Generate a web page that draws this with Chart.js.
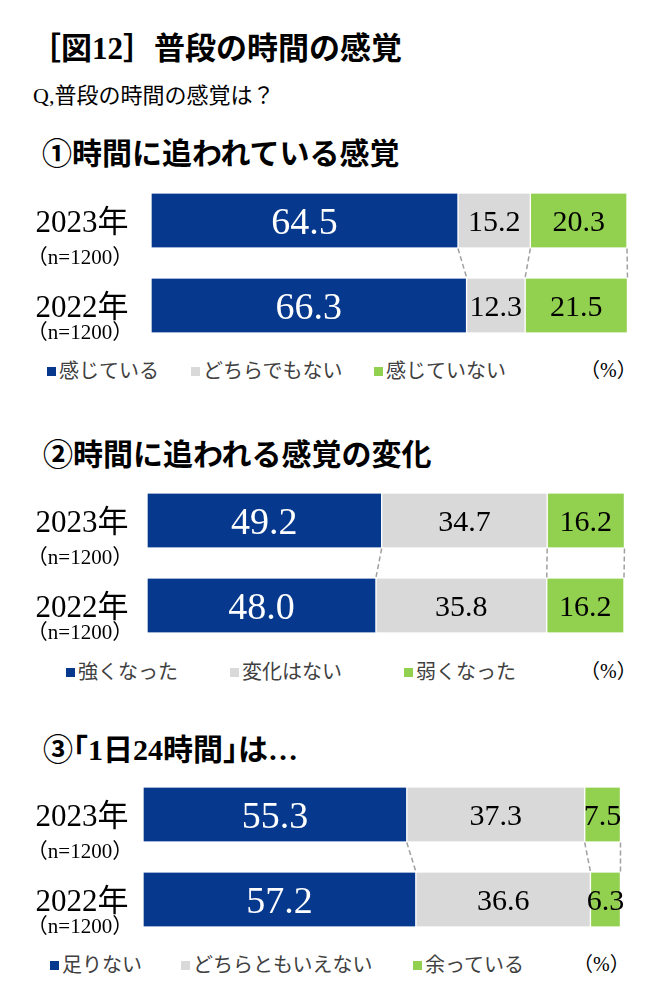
<!DOCTYPE html>
<html>
<head>
<meta charset="utf-8">
<script src="https://cdn.jsdelivr.net/npm/chart.js@4.4.0/dist/chart.umd.min.js"></script>
<style>
body { margin: 0; background: #fff; }
#page { position: relative; width: 670px; height: 1000px; overflow: hidden; background: #fff;
        font-family: "Liberation Serif", "Noto Sans CJK JP", serif; color: #000; }
.t { position: absolute; white-space: nowrap; line-height: 1; }
.halt { font-feature-settings: "halt" 1; }
canvas { position: absolute; left: 0; }
.legend { position: absolute; left: 0; width: 670px; height: 24px;
          font-family: "Noto Sans CJK JP", sans-serif; font-size: 20px; color: #404040; }
.legend .item { position: absolute; top: 0; white-space: nowrap; line-height: 24px; }
.legend i { display: inline-block; width: 9px; height: 9px; margin-right: 3px; vertical-align: middle; position: relative; top: -1px; }
</style>
</head>
<body>
<div id="page">
  <div class="t" style="left:30px;top:33px;font-size:31px;font-weight:700;">［図12］普段の時間の感覚</div>
  <div class="t" style="left:33px;top:85px;font-size:22px;">Q,普段の時間の感覚は？</div>

  <div class="t" style="left:42px;top:139px;font-size:30px;font-weight:700;">①時間に追われている感覚</div>
  <canvas id="chart1" width="670" height="170" style="top:178px"></canvas>
  <div class="legend" id="legend1" style="top:358px"></div>

  <div class="t" style="left:43px;top:440px;font-size:30px;font-weight:700;">②時間に追われる感覚の変化</div>
  <canvas id="chart2" width="670" height="170" style="top:478px"></canvas>
  <div class="legend" id="legend2" style="top:659px"></div>

  <div class="t halt" style="left:43px;top:735px;font-size:30px;font-weight:700;">③「1日24時間」は…</div>
  <canvas id="chart3" width="670" height="170" style="top:772px"></canvas>
  <div class="legend" id="legend3" style="top:952px"></div>
</div>

<script>
// 年 (2023, 2022 の順)
var years = ['2023年', '2022年'];
var sampleLabel = '（n=1200）';
var unitLabel = '（%）';

// ①時間に追われている感覚
var s1Names = ['感じている', 'どちらでもない', '感じていない'];
var s1Feel = [64.5, 66.3];
var s1Neutral = [15.2, 12.3];
var s1NotFeel = [20.3, 21.5];

// ②時間に追われる感覚の変化
var s2Names = ['強くなった', '変化はない', '弱くなった'];
var s2Stronger = [49.2, 48.0];
var s2NoChange = [34.7, 35.8];
var s2Weaker = [16.2, 16.2];

// ③「1日24時間」は…
var s3Names = ['足りない', 'どちらともいえない', '余っている'];
var s3Short = [55.3, 57.2];
var s3Neither = [37.3, 36.6];
var s3Spare = [7.5, 6.3];

var colors = ['#06398d', '#d9d9d9', '#92d050'];
var textColors = ['#ffffff', '#000000', '#000000'];

// 年ラベル (2023年 / (n=1200))
var yearLabels = {
    id: 'yearLabels',
    afterDraw: function (chart) {
        var ctx = chart.ctx, yScale = chart.scales.y;
        ctx.save();
        ctx.fillStyle = '#000';
        ctx.textAlign = 'center';
        ctx.textBaseline = 'middle';
        years.forEach(function (yr, i) {
            var y = yScale.getPixelForValue(i);
            ctx.font = '31px "Liberation Serif", "Noto Sans CJK JP"';
            ctx.fillText(yr, 82, y + 3);
            ctx.font = '21px "Liberation Serif", "Noto Sans CJK JP"';
            ctx.fillText(sampleLabel, 80, y + (i === 0 ? 38 : 28));
        });
        ctx.restore();
    }
};

// バーの中の数値
var valueLabels = {
    id: 'valueLabels',
    afterDatasetsDraw: function (chart) {
        var ctx = chart.ctx;
        ctx.save();
        ctx.textAlign = 'center';
        ctx.textBaseline = 'alphabetic';
        chart.data.datasets.forEach(function (ds, di) {
            var meta = chart.getDatasetMeta(di);
            meta.data.forEach(function (el, i) {
                var cx = (el.x + el.base) / 2;
                ctx.fillStyle = textColors[di];
                if (di === 0) {
                    ctx.font = '38px "Liberation Serif"';
                    ctx.fillText(ds.data[i].toFixed(1), cx, el.y + 13);
                } else {
                    ctx.font = '30px "Liberation Serif"';
                    ctx.fillText(ds.data[i].toFixed(1), cx, el.y + 10);
                }
            });
        });
        ctx.restore();
    }
};

// 2本のバーをつなぐ破線
var connectors = {
    id: 'connectors',
    afterDatasetsDraw: function (chart) {
        var ctx = chart.ctx;
        ctx.save();
        ctx.strokeStyle = '#a0a0a0';
        ctx.lineWidth = 1.5;
        ctx.setLineDash([5, 3]);
        chart.data.datasets.forEach(function (ds, di) {
            var meta = chart.getDatasetMeta(di),
                top = meta.data[0],
                bot = meta.data[1];
            ctx.beginPath();
            ctx.moveTo(top.x, top.y + top.height / 2 + 1);
            ctx.lineTo(bot.x, bot.y - bot.height / 2 - 1);
            ctx.stroke();
        });
        ctx.restore();
    }
};

function drawSection(canvasId, names, series, padLeft, padRight) {
    var ctx = document.getElementById(canvasId).getContext('2d');
    return new Chart(ctx, {
        type: 'bar',
        data: {
            labels: years,
            datasets: series.map(function (vals, k) {
                return {
                    label: names[k],
                    data: vals,
                    backgroundColor: colors[k],
                    borderColor: '#ffffff',
                    borderWidth: { left: 1, right: 1, top: 0, bottom: 0 },
                    borderSkipped: false,
                    barThickness: 54
                };
            })
        },
        options: {
            indexAxis: 'y',
            responsive: false,
            animation: false,
            devicePixelRatio: 1,
            layout: { padding: { left: padLeft, right: padRight, top: 0, bottom: 0 } },
            plugins: { legend: { display: false }, tooltip: { enabled: false } },
            scales: {
                x: { stacked: true, min: 0, max: 100, display: false },
                y: { stacked: true, display: false }
            }
        },
        plugins: [connectors, valueLabels, yearLabels]
    });
}

function drawLegend(id, names, xs, unitX) {
    var el = document.getElementById(id), html = '';
    names.forEach(function (n, k) {
        html += '<span class="item" style="left:' + xs[k] + 'px"><i style="background:' + colors[k] + '"></i>' + n + '</span>';
    });
    html += '<span class="item" style="left:' + unitX + 'px;font-family:\'Liberation Serif\',\'Noto Sans CJK JP\';color:#000">' + unitLabel + '</span>';
    el.innerHTML = html;
}

drawSection('chart1', s1Names, [s1Feel, s1Neutral, s1NotFeel], 151, 43);
drawSection('chart2', s2Names, [s2Stronger, s2NoChange, s2Weaker], 147, 46);
drawSection('chart3', s3Names, [s3Short, s3Neither, s3Spare], 143, 50);

drawLegend('legend1', s1Names, [47, 191, 374], 580);
drawLegend('legend2', s2Names, [66, 230, 404], 580);
drawLegend('legend3', s3Names, [50, 181, 413], 573);
</script>
</body>
</html>
